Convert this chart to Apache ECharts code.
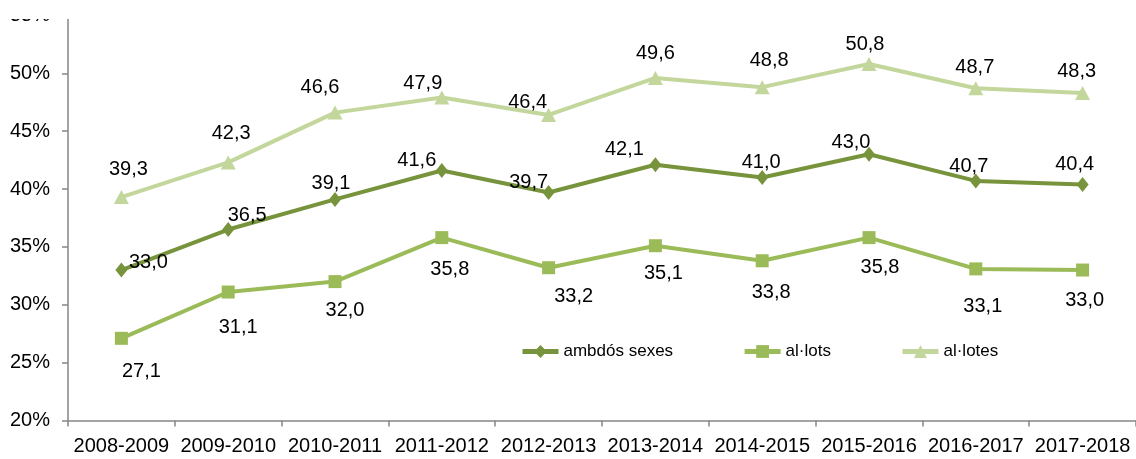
<!DOCTYPE html>
<html>
<head>
<meta charset="utf-8">
<script src="https://cdn.jsdelivr.net/npm/echarts@6/dist/echarts.min.js"></script>
<style>
html,body{margin:0;padding:0;background:#fff;}
#chart{width:1136px;height:459px;}
</style>
</head>
<body>
<div id="chart"></div>
<script>
const categories = ['2008-2009','2009-2010','2010-2011','2011-2012','2012-2013','2013-2014','2014-2015','2015-2016','2016-2017','2017-2018'];
const ambdosSexes = [33.0, 36.5, 39.1, 41.6, 39.7, 42.1, 41.0, 43.0, 40.7, 40.4];
const allots = [27.1, 31.1, 32.0, 35.8, 33.2, 35.1, 33.8, 35.8, 33.1, 33.0];
const allotes = [39.3, 42.3, 46.6, 47.9, 46.4, 49.6, 48.8, 50.8, 48.7, 48.3];
const seriesNames = ['ambdós sexes', 'al·lots', 'al·lotes'];

// label placement tweaks (style only)
const ambOff = [[27,-8],[19,-14],[-4,-16],[-25,-10],[-20,-10],[-31,-15],[-1,-15],[-18,-12],[-7,-14],[-8,-20]];
const allotsOff = [[20,33],[10,35],[10,29],[8,32],[25,29],[8,28],[9,32],[11,30],[7,38],[2,30]];
const allotesOff = [[7,-28],[3,-29],[-15,-25],[-19,-14],[-21,-12],[0,-24],[7,-27],[-4,-20],[-1,-21],[-6,-21]];

const FONT = '"Liberation Sans", Arial, sans-serif';
function fmt(v){ return v.toFixed(1).replace('.', ','); }
function build(vals, offs){
  return vals.map((v,i)=>({value:v, label:{offset:offs[i]}}));
}
function mkSeries(name, vals, offs, color, symbol, size, z){
  return {
    name: name,
    type: 'line',
    data: build(vals, offs),
    symbol: symbol,
    symbolSize: size,
    z: z,
    lineStyle: {color: color, width: 4},
    itemStyle: {color: color},
    emphasis: {disabled: true},
    label: {
      show: true,
      position: 'inside',
      color: '#000',
      fontFamily: FONT,
      fontSize: 20,
      formatter: p => fmt(p.value)
    }
  };
}

const chart = echarts.init(document.getElementById('chart'), null, {renderer:'canvas'});
chart.setOption({
  animation: false,
  backgroundColor: '#fff',
  grid: {left: 68, top: 15.4, width: 1073, bottom: 38.5, containLabel: false},
  legend: {
    left: 515, top: 338,
    itemWidth: 36, itemHeight: 16, itemGap: 69,
    lineStyle: {width: 5},
    textStyle: {fontFamily: FONT, fontSize: 17, color: '#000'},
    data: seriesNames
  },
  xAxis: {
    type: 'category',
    data: categories,
    boundaryGap: true,
    axisLine: {lineStyle: {color: '#868686', width: 1.5}},
    axisTick: {show: true, length: 6, lineStyle: {color: '#868686', width: 1.5}},
    axisLabel: {color: '#000', fontFamily: FONT, fontSize: 20, margin: 16, interval: 0},
    splitLine: {show: false}
  },
  yAxis: {
    type: 'value',
    min: 20, max: 55, interval: 5,
    axisLine: {show: true, lineStyle: {color: '#868686', width: 1.5}},
    axisTick: {show: true, length: 6, lineStyle: {color: '#868686', width: 1.5}},
    axisLabel: {color: '#000', fontFamily: FONT, fontSize: 20, margin: 18, formatter: '{value}%'},
    splitLine: {show: false}
  },
  graphic: [{
    type: 'rect', left: 0, top: 0, z: 100,
    shape: {width: 75, height: 19},
    style: {fill: '#fff'}
  }],
  series: [
    mkSeries(seriesNames[0], ambdosSexes, ambOff, '#77933C', 'diamond', [12,15], 4),
    mkSeries(seriesNames[1], allots, allotsOff, '#9BBB59', 'rect', 13, 3),
    mkSeries(seriesNames[2], allotes, allotesOff, '#C3D69B', 'triangle', [15,14], 2)
  ]
});
</script>
</body>
</html>
